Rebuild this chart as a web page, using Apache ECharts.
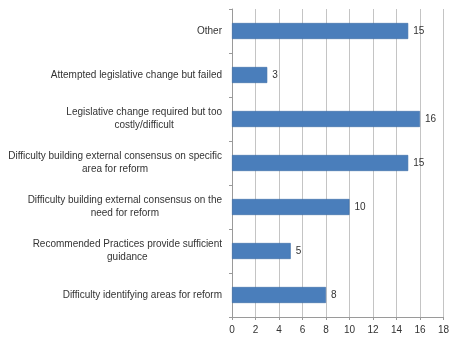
<!DOCTYPE html>
<html>
<head>
<meta charset="utf-8">
<style>
  html, body { margin: 0; padding: 0; background: #ffffff; }
  #chart { width: 452px; height: 339px; }
</style>
<script src="https://cdn.jsdelivr.net/npm/echarts@6/dist/echarts.min.js"></script>
</head>
<body>
<div id="chart"></div>
<script>
// Reasons given, listed top to bottom
const categories = [
  'Other',
  'Attempted legislative change but failed',
  'Legislative change required but too\ncostly/difficult',
  'Difficulty building external consensus on specific\narea for reform',
  'Difficulty building external consensus on the\nneed for reform',
  'Recommended Practices provide sufficient\nguidance',
  'Difficulty identifying areas for reform'
];
const counts = [15, 3, 16, 15, 10, 5, 8];
const xTicks = [0, 2, 4, 6, 8, 10, 12, 14, 16, 18];

const chart = echarts.init(document.getElementById('chart'), null, { renderer: 'canvas' });
const font = 'Liberation Sans';

chart.setOption({
  backgroundColor: '#ffffff',
  animation: false,
  grid: { left: 232, right: 4, top: 9, bottom: 22, containLabel: false },
  xAxis: {
    type: 'value',
    min: xTicks[0],
    max: xTicks[xTicks.length - 1],
    interval: xTicks[1] - xTicks[0],
    axisLine: { show: true, lineStyle: { color: '#9a9a9a', width: 1 } },
    axisTick: { show: true, length: 3, lineStyle: { color: '#9a9a9a' } },
    axisLabel: { color: '#333333', fontFamily: font, fontSize: 10, margin: 8 },
    splitLine: { show: true, lineStyle: { color: '#c4c4c4', width: 1 } }
  },
  yAxis: {
    type: 'category',
    data: categories,
    inverse: true,
    axisLine: { show: true, lineStyle: { color: '#9a9a9a', width: 1 } },
    axisTick: { show: true, length: 3, alignWithLabel: false, lineStyle: { color: '#9a9a9a' } },
    axisLabel: {
      margin: 10,
      formatter: function (v) {
        return v.split('\n').map(function (l) { return '{c|' + l + '}'; }).join('\n');
      },
      rich: {
        c: { align: 'center', color: '#333333', fontFamily: font, fontSize: 10, lineHeight: 13 }
      }
    },
    splitLine: { show: false }
  },
  series: [{
    type: 'bar',
    data: counts,
    barWidth: 16,
    itemStyle: { color: '#4a7ebb', borderColor: '#3d6ba6', borderWidth: 0.6 },
    label: {
      show: true,
      position: 'right',
      distance: 5,
      color: '#333333',
      fontFamily: font,
      fontSize: 10
    }
  }]
});
</script>
</body>
</html>
